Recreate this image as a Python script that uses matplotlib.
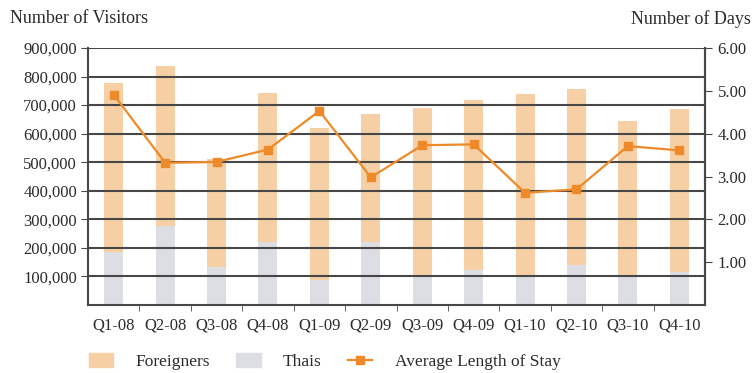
import numpy as np
import matplotlib
matplotlib.use("Agg")
import matplotlib.pyplot as plt
from matplotlib.ticker import FuncFormatter, FixedLocator

plt.rcParams['font.family'] = ['Liberation Serif', 'DejaVu Serif']

quarters = ['Q1-08', 'Q2-08', 'Q3-08', 'Q4-08', 'Q1-09', 'Q2-09',
            'Q3-09', 'Q4-09', 'Q1-10', 'Q2-10', 'Q3-10', 'Q4-10']
total_visitors = [777000, 836000, 510000, 744000, 620000, 668000,
                  690000, 719000, 740000, 758000, 643000, 688000]
thais = [186000, 275000, 134000, 220000, 87000, 220000,
         105000, 122000, 99000, 140000, 99000, 116000]
foreigners = [t - th for t, th in zip(total_visitors, thais)]
avg_stay = [4.91, 3.32, 3.34, 3.63, 4.53, 2.98,
            3.73, 3.75, 2.62, 2.70, 3.71, 3.61]

c_foreign = '#F6D0A4'
c_thai = '#DDDEE3'
c_line = '#EE8A2A'
c_axis = '#474747'
c_text = '#2b2b2b'

fig = plt.figure(figsize=(7.55, 3.73), dpi=100)
ax = fig.add_axes([0.1166, 0.1823, 0.8172, 0.689])
x = np.arange(len(quarters))

ax.bar(x, thais, width=0.37, color=c_thai, zorder=1)
ax.bar(x, foreigners, width=0.37, bottom=thais, color=c_foreign, zorder=1)

ax.set_xlim(-0.5, len(quarters) - 0.5)
ax.set_ylim(0, 900000)
ax.yaxis.set_major_locator(FixedLocator(np.arange(100000, 900001, 100000)))
ax.yaxis.set_major_formatter(FuncFormatter(lambda v, p: f'{int(v):,}'))
ax.set_axisbelow(False)
ax.grid(axis='y', color=c_axis, linewidth=1.5, zorder=2)

ax.set_xticks(x)
ax.set_xticklabels(quarters)
ax.set_xticks(np.arange(0.5, len(quarters) - 0.5, 1), minor=True)
ax.tick_params(axis='x', which='major', length=0, pad=9, labelsize=12, colors=c_text)
ax.tick_params(axis='x', which='minor', length=4, direction='out', color=c_axis)
ax.tick_params(axis='y', length=5, direction='out', color=c_axis, labelsize=12,
               labelcolor=c_text, pad=3)

for s in ['left', 'bottom', 'right']:
    ax.spines[s].set_color(c_axis)
    ax.spines[s].set_linewidth(1.5)
ax.spines['top'].set_visible(False)

ax2 = ax.twinx()
ax2.plot(x, avg_stay, color=c_line, linewidth=1.6, marker='s', markersize=6,
         zorder=5)
ax2.set_ylim(0, 6)
ax2.yaxis.set_major_locator(FixedLocator([1, 2, 3, 4, 5, 6]))
ax2.yaxis.set_major_formatter(FuncFormatter(lambda v, p: f'{v:.2f}'))
ax2.tick_params(axis='y', length=5, direction='out', color=c_axis, labelsize=12,
                labelcolor=c_text, pad=4)
for s in ['left', 'bottom', 'top']:
    ax2.spines[s].set_visible(False)
ax2.spines['right'].set_color(c_axis)
ax2.spines['right'].set_linewidth(1.5)

fig.text(0.013, 0.95, 'Number of Visitors', fontsize=13, color=c_text,
         ha='left', va='center')
fig.text(0.995, 0.95, 'Number of Days', fontsize=13, color=c_text,
         ha='right', va='center')

h_foreign = plt.Rectangle((0, 0), 1, 1, color=c_foreign)
h_thai = plt.Rectangle((0, 0), 1, 1, color=c_thai)
h_line, = ax2.plot([], [], color=c_line, linewidth=1.6, marker='s', markersize=6)
fig.legend([h_foreign, h_thai, h_line],
           ['Foreigners', 'Thais', 'Average Length of Stay'],
           loc='center left', bbox_to_anchor=(0.097, 0.03), ncol=3,
           frameon=False, fontsize=12.5, handlelength=1.4, handleheight=0.8,
           handletextpad=1.3, columnspacing=1.5, labelcolor=c_text)

fig.savefig('out.png', dpi=100)
